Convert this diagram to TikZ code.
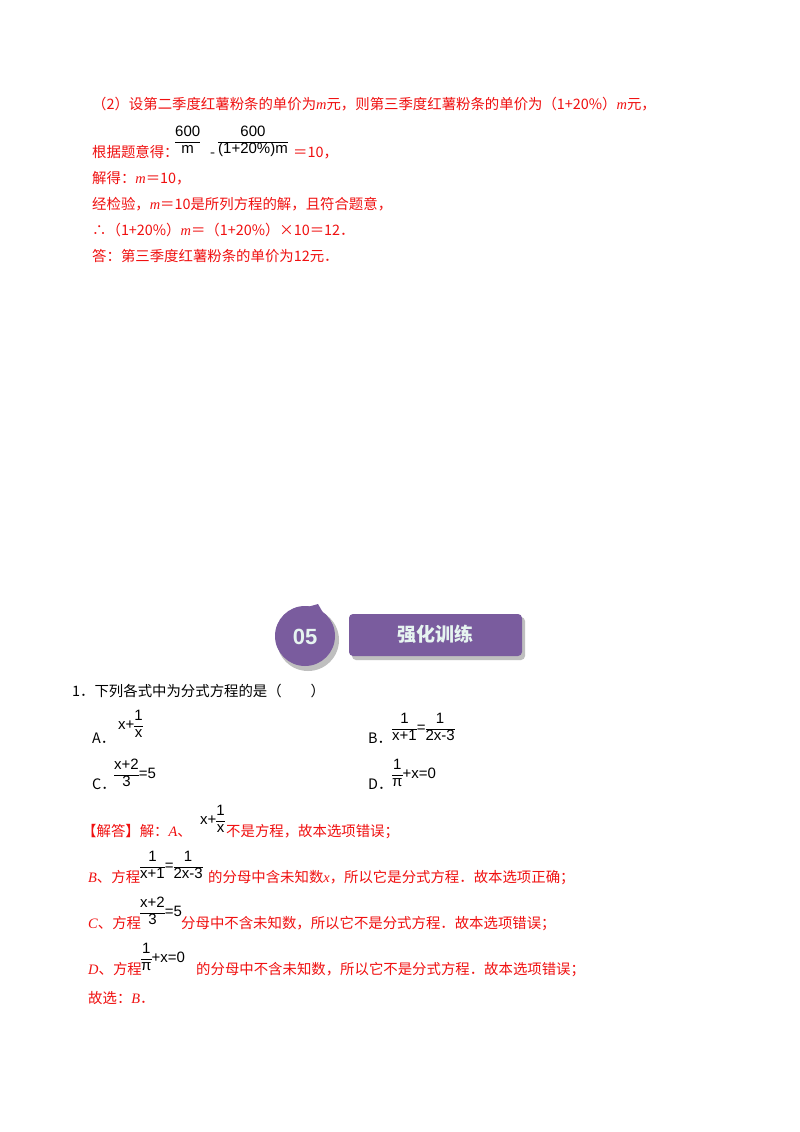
\documentclass[tikz,border=0pt]{standalone}
\usepackage{fontspec}
\setmainfont{Noto Sans CJK SC}
\newfontfamily\fs{Liberation Sans}
\newfontfamily\ser{Liberation Serif}
\newcommand{\fr}[2]{{\fs\renewcommand{\arraystretch}{1.05}\begin{tabular}{@{}c@{}}#1\\\hline #2\end{tabular}}}
\definecolor{rd}{HTML}{F01010}
\definecolor{pp}{HTML}{7A5C9E}
\definecolor{lt}{HTML}{E6F4F0}
\begin{document}
\begin{tikzpicture}[x=1pt,y=-1pt,
  t/.style={anchor=base west,inner sep=0pt,font=\fontsize{14.4}{15}\selectfont},
  r/.style={t,text=rd},
  f/.style={anchor=west,inner sep=0pt,font=\fontsize{15}{16}\selectfont}]
\useasboundingbox[fill=white] (0,0) rectangle (800,1132);
\node[r] (l1) at (92,109) {（2）设第二季度红薯粉条的单价为\textit{\ser m}元，则第三季度红薯粉条的单价为（1+20\%）\textit{\ser m}元，};
\node[r] (l2) at (92,157) {根据题意得：};
\node[f] (f1) at (175,142) {\fr{600}{m}};
\node[t] (mi) at (210,157) {-};
\node[f] (f2) at (218,142) {\fr{600}{(1+20\%)m}};
\node[r] (l2b) at (293,157) {＝10，};
\node[r] (l3) at (92,183) {解得：\textit{\ser m}＝10，};
\node[r] (l4) at (92,209) {经检验，\textit{\ser m}＝10是所列方程的解，且符合题意，};
\node[r] (l5) at (92,235) {∴（1+20\%）\textit{\ser m}＝（1+20\%）×10＝12．};
\node[r] (l6) at (92,261) {答：第三季度红薯粉条的单价为12元．};
% banner
\fill[gray!50] (308,640) circle (31);
\fill[pp] (305,636) circle (30);
\fill[pp] (290,612) -- (318,604) -- (330,625) -- cycle;
\node[text=lt,font=\fs\bfseries\fontsize{22}{22}\selectfont] (n05) at (305,637) {05};
\fill[gray!50,rounded corners=4pt] (352,617) rectangle (525,660);
\fill[pp,rounded corners=4pt] (349,614) rectangle (522,656);
\node[text=lt,font=\bfseries\fontsize{19}{19}\selectfont] (ban) at (435,634) {强化训练};
% question
\node[t] (q) at (72,696) {1．下列各式中为分式方程的是（　　）};
\node[t] (A) at (92,743) {A．};
\node[f] (fa) at (118,726) {{\fs x+}\fr{1}{x}};
\node[t] (B) at (368,743) {B．};
\node[f] (fb) at (392,729) {\fr{1}{x+1}{\fs =}\fr{1}{2x-3}};
\node[t] (C) at (92,789) {C．};
\node[f] (fc) at (114,775) {\fr{x+2}{3}{\fs =5}};
\node[t] (D) at (368,789) {D．};
\node[f] (fd) at (392,775) {\fr{1}{π}{\fs +x=0}};
% answer
\node[r] (a1) at (82,836) {【解答】解：\textit{\ser A}、};
\node[f] (ga) at (200,821) {{\fs x+}\fr{1}{x}};
\node[r] (a1b) at (226,836) {不是方程，故本选项错误；};
\node[r] (a2) at (88,882) {\textit{\ser B}、方程};
\node[f] (gb) at (140,867) {\fr{1}{x+1}{\fs =}\fr{1}{2x-3}};
\node[r] (a2b) at (208,882) {的分母中含未知数\textit{\ser x}，所以它是分式方程．故本选项正确；};
\node[r] (a3) at (88,928) {\textit{\ser C}、方程};
\node[f] (gc) at (140,913) {\fr{x+2}{3}{\fs =5}};
\node[r] (a3b) at (181,928) {分母中不含未知数，所以它不是分式方程．故本选项错误；};
\node[r] (a4) at (88,974) {\textit{\ser D}、方程};
\node[f] (gd) at (141,959) {\fr{1}{π}{\fs +x=0}};
\node[r] (a4b) at (196,974) {的分母中不含未知数，所以它不是分式方程．故本选项错误；};
\node[r] (a5) at (88,1003) {故选：\textit{\ser B}．};
\end{tikzpicture}
\end{document}
